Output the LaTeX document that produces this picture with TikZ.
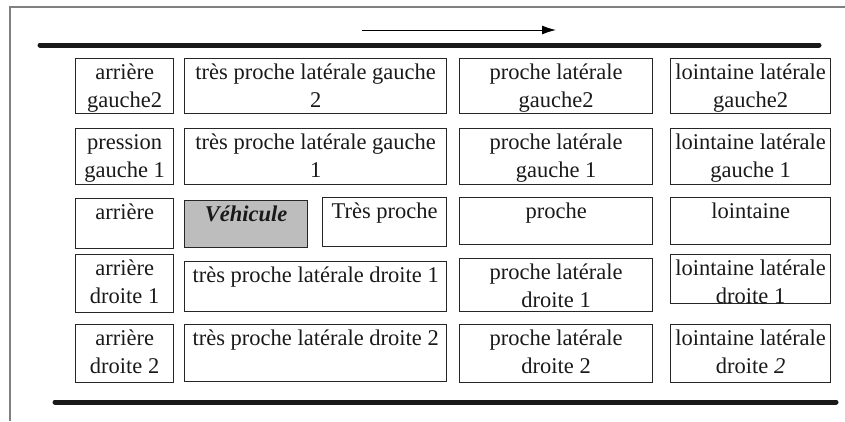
\documentclass[tikz,border=0pt]{standalone}
\usepackage{fontspec}
\setmainfont{Liberation Serif}
\usetikzlibrary{arrows.meta}
\tikzset{
  cellbox/.style={draw=black!85, line width=1.3pt, inner sep=0pt, anchor=north west},
  celltext/.style={font=\fontsize{22.5}{28}\selectfont, align=center, inner sep=0pt, anchor=north, text=black!90},
  road/.style={line width=5pt, black!90, line cap=round},
  framel/.style={line width=1.5pt, black!50},
  dirarrow/.style={line width=1pt, black, -{Latex[length=14pt,width=9pt]}}
}
\newcommand\stru{\rule{0pt}{17pt}}
\newcommand\mkcell[7][]{%
  \node[cellbox,#1, minimum width={#5pt-#3pt}, minimum height={#6pt-#4pt}] (#2) at (#3,#4) {};
  \node[celltext] (#2-t) at ([yshift=-4pt]#2.north) {#7};
}
\begin{document}
\begin{tikzpicture}[x=1pt,y=-1pt]
\useasboundingbox (0,0) rectangle (845,421);
% frame
\coordinate (fA) at (10,421);
\coordinate (fB) at (10,7);
\coordinate (fC) at (845,7);
\draw[framel] (fA) -- (fB) -- (fC);
% arrow
\coordinate (arrS) at (362,30);
\coordinate (arrE) at (556,30);
\draw[dirarrow] (arrS) -- (arrE);
% road lines
\coordinate (rT1) at (40,45);
\coordinate (rT2) at (819,45);
\draw[road] (rT1) -- (rT2);
\coordinate (rB1) at (55,402);
\coordinate (rB2) at (836,402);
\draw[road] (rB1) -- (rB2);
% row 1
\mkcell{ag2}{75}{58}{173}{113}{\stru arrière\\\stru gauche2}
\mkcell{tpg2}{184}{58}{446}{113}{\stru très proche latérale gauche\\\stru 2}
\mkcell{pg2}{459}{58}{652}{113}{\stru proche latérale\\\stru gauche2}
\mkcell{lg2}{670}{58}{830}{113}{\stru lointaine latérale\\\stru gauche2}
% row 2
\mkcell{pg1x}{75}{128}{173}{184}{\stru pression\\\stru gauche 1}
\mkcell{tpg1}{184}{128}{446}{184}{\stru très proche latérale gauche\\\stru 1}
\mkcell{pg1}{459}{128}{652}{184}{\stru proche latérale\\\stru gauche 1}
\mkcell{lg1}{670}{128}{830}{184}{\stru lointaine latérale\\\stru gauche 1}
% row 3
\mkcell{arr}{75}{198}{173}{248}{\stru arrière}
\mkcell[fill=black!26]{veh}{184}{200}{307}{247}{\stru\bfseries\itshape Véhicule}
\mkcell{tp}{322}{197}{446}{246}{\stru Très proche}
\mkcell{pr}{459}{197}{652}{244}{\stru proche}
\mkcell{lo}{670}{197}{830}{244}{\stru lointaine}
% row 4
\mkcell{ad1}{75}{254}{173}{312}{\stru arrière\\\stru droite 1}
\mkcell{tpd1}{184}{261}{446}{311}{\stru très proche latérale droite 1}
\mkcell{pd1}{459}{258}{652}{311}{\stru proche latérale\\\stru droite 1}
\mkcell{ld1}{670}{254}{830}{303}{\stru lointaine latérale\\\stru droite 1}
% row 5
\mkcell{ad2}{75}{324}{173}{382}{\stru arrière\\\stru droite 2}
\mkcell{tpd2}{184}{324}{446}{381}{\stru très proche latérale droite 2}
\mkcell{pd2}{459}{324}{652}{382}{\stru proche latérale\\\stru droite 2}
\mkcell{ld2}{670}{324}{830}{382}{\stru lointaine latérale\\\stru droite \textit{2}}
\end{tikzpicture}
\end{document}
